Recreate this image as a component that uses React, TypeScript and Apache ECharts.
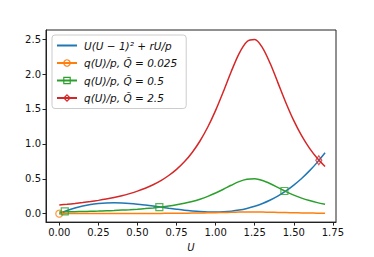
import React, { useEffect, useRef } from "react";
import * as echarts from "echarts";

const uValues = [0, 0.05, 0.1, 0.15, 0.2, 0.25, 0.3, 0.35, 0.4, 0.45, 0.5, 0.55, 0.6, 0.65, 0.7, 0.75, 0.8, 0.85, 0.9, 0.95, 1.0, 1.05, 1.1, 1.15, 1.2, 1.25, 1.3, 1.35, 1.4, 1.45, 1.5, 1.55, 1.6, 1.65, 1.7];
const blueValues = [0, 0.046, 0.083, 0.112, 0.133, 0.146, 0.154, 0.156, 0.153, 0.147, 0.137, 0.124, 0.110, 0.095, 0.079, 0.064, 0.050, 0.039, 0.030, 0.024, 0.023, 0.027, 0.036, 0.052, 0.076, 0.107, 0.147, 0.197, 0.256, 0.327, 0.410, 0.505, 0.613, 0.735, 0.872];
const orangeValues = [0.0012, 0.0014, 0.0015, 0.0016, 0.0017, 0.0019, 0.0021, 0.0023, 0.0026, 0.0029, 0.0032, 0.0036, 0.0041, 0.0047, 0.0055, 0.0064, 0.0074, 0.0088, 0.0104, 0.0124, 0.0148, 0.0175, 0.0204, 0.0229, 0.0246, 0.0249, 0.0237, 0.0215, 0.0187, 0.0159, 0.0133, 0.0112, 0.0094, 0.0079, 0.0068];
const greenValues = [0.025, 0.027, 0.029, 0.032, 0.035, 0.038, 0.042, 0.046, 0.052, 0.058, 0.065, 0.073, 0.083, 0.095, 0.109, 0.127, 0.149, 0.175, 0.208, 0.248, 0.296, 0.350, 0.407, 0.459, 0.492, 0.499, 0.475, 0.429, 0.373, 0.317, 0.266, 0.223, 0.188, 0.159, 0.135];
const redValues = [0.125, 0.135, 0.146, 0.159, 0.174, 0.191, 0.210, 0.232, 0.257, 0.288, 0.323, 0.364, 0.414, 0.474, 0.547, 0.635, 0.743, 0.877, 1.041, 1.241, 1.480, 1.751, 2.036, 2.293, 2.462, 2.493, 2.375, 2.146, 1.866, 1.585, 1.332, 1.117, 0.939, 0.794, 0.676];

const orangeMarkers = [[0, 0.001]];
const greenMarkers = [[0.035, 0.033], [0.64, 0.095], [1.44, 0.325]];
const redMarkers = [[1.66, 0.765]];

const xTicks = [0, 0.25, 0.5, 0.75, 1.0, 1.25, 1.5, 1.75];
const yTicks = [0, 0.5, 1.0, 1.5, 2.0, 2.5];

const seriesNames = [
  "U(U − 1)² + rU/p",
  "q(U)/p, Q̃ = 0.025",
  "q(U)/p, Q̃ = 0.5",
  "q(U)/p, Q̃ = 2.5",
];

const BLUE = "#1f77b4";
const ORANGE = "#ff7f0e";
const GREEN = "#2ca02c";
const RED = "#d62728";
const FONT = "DejaVu Sans";
const CLEAR = "rgba(255,255,255,0)";

function pairs(ys: number[]) {
  return uValues.map((u, i) => [u, ys[i]]);
}

function lineSeries(name: string, ys: number[], color: string, symbol: string, symbolSize: any, hideIcon = false) {
  return {
    type: "line",
    name,
    data: pairs(ys),
    smooth: 0.3,
    showSymbol: false,
    symbol,
    symbolSize,
    lineStyle: { color, width: 1.5 },
    itemStyle: hideIcon
      ? { color: CLEAR, borderColor: CLEAR, borderWidth: 0 }
      : { color: CLEAR, borderColor: color, borderWidth: 1.2 },
    z: 2,
  };
}

function markerSeries(name: string, pts: number[][], color: string, symbol: string, symbolSize: any) {
  return {
    type: "scatter",
    name,
    data: pts,
    symbol,
    symbolSize,
    itemStyle: { color: CLEAR, borderColor: color, borderWidth: 1.2 },
    z: 3,
  };
}

const legendColors = [BLUE, ORANGE, GREEN, RED];

export default function App() {
  const ref = useRef<HTMLDivElement>(null);
  useEffect(() => {
    document.body.style.margin = "0";
    if (!ref.current) return;
    const chart = echarts.init(ref.current, null, { renderer: "svg" });
    chart.setOption({
      animation: false,
      backgroundColor: "#fff",
      grid: {
        left: 46,
        right: 38,
        top: 30,
        bottom: 33,
        show: true,
        borderColor: "#222",
        borderWidth: 1,
        backgroundColor: "transparent",
      },
      legend: {
        data: seriesNames.map((name, i) => ({
          name,
          itemStyle: {
            color: CLEAR,
            borderColor: i === 0 ? CLEAR : legendColors[i],
            borderWidth: i === 0 ? 0 : 1.2,
          },
        })),
        orient: "vertical",
        left: 52,
        top: 35,
        itemWidth: 20,
        itemHeight: 8,
        itemGap: 6.5,
        padding: [5, 9, 5, 4],
        backgroundColor: "rgba(255,255,255,0.8)",
        borderColor: "#ccc",
        borderWidth: 1,
        borderRadius: 3,
        textStyle: { fontFamily: FONT, fontSize: 10.5, fontStyle: "italic", color: "#111", padding: [0, 0, 0, 2] },
      },
      xAxis: {
        type: "value",
        min: -0.085,
        max: 1.77,
        name: "U",
        nameLocation: "middle",
        nameGap: 18,
        nameTextStyle: { fontFamily: FONT, fontSize: 10, fontStyle: "italic", color: "#111" },
        axisLine: { show: true, onZero: false, lineStyle: { color: "#222" } },
        axisTick: { show: true, length: 3.5, customValues: xTicks, lineStyle: { color: "#222" } },
        axisLabel: {
          customValues: xTicks,
          fontFamily: FONT,
          fontSize: 10,
          color: "#111",
          margin: 5,
          formatter: (v: number) => v.toFixed(2),
        },
        splitLine: { show: false },
      },
      yAxis: {
        type: "value",
        min: -0.12,
        max: 2.63,
        axisLine: { show: true, onZero: false, lineStyle: { color: "#222" } },
        axisTick: { show: true, length: 3.5, customValues: yTicks, lineStyle: { color: "#222" } },
        axisLabel: {
          customValues: yTicks,
          fontFamily: FONT,
          fontSize: 10,
          color: "#111",
          margin: 5,
          formatter: (v: number) => v.toFixed(1),
        },
        splitLine: { show: false },
      },
      series: [
        lineSeries(seriesNames[0], blueValues, BLUE, "circle", 0, true),
        lineSeries(seriesNames[1], orangeValues, ORANGE, "circle", 7),
        lineSeries(seriesNames[2], greenValues, GREEN, "rect", 7),
        lineSeries(seriesNames[3], redValues, RED, "diamond", [6, 9]),
        markerSeries("m1", orangeMarkers, ORANGE, "circle", 7),
        markerSeries("m2", greenMarkers, GREEN, "rect", 7),
        markerSeries("m3", redMarkers, RED, "diamond", [6, 9]),
      ],
    });
    return () => chart.dispose();
  }, []);
  return <div ref={ref} style={{ width: 374, height: 257 }} />;
}
